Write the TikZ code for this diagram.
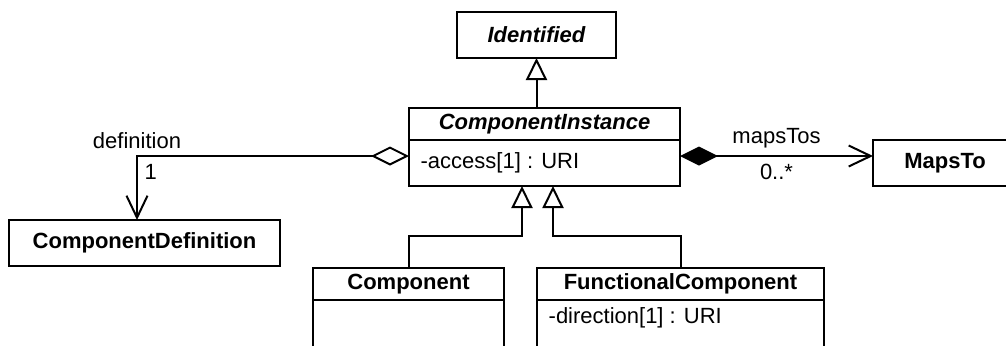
\documentclass[tikz,border=0pt]{standalone}
\usepackage{fontspec}
\setmainfont{Liberation Sans}
\usetikzlibrary{arrows.meta}

\begin{document}
\begin{tikzpicture}[x=0.5pt,y=-0.5pt,line width=1pt,
  every node/.style={font=\fontsize{11}{13}\selectfont},
  cls/.style={draw,inner sep=0pt,outer sep=0pt,minimum width=#1},
  gen/.style={-{Triangle[open,length=11pt,width=10.5pt]}},
  agg/.style={{Diamond[open,length=19pt,width=9.5pt]}-{Straight Barb[length=11pt,width=10.5pt]}},
  cmp/.style={{Diamond[length=19pt,width=9.5pt]}-{Straight Barb[length=11pt,width=10.5pt]}}]
   \useasboundingbox (0,0) rectangle (1006,345);
   \clip (0,0) rectangle (1006,345);
   \node[cls=79.5pt,minimum height=23pt] (ident) at (536.5,35) {\bfseries\itshape Identified};
   \node[cls=135.5pt,minimum height=16pt] (ci) at (544.5,124) {\bfseries\itshape ComponentInstance};
   \node[cls=135.5pt,minimum height=23pt,anchor=north] (ciatt) at (ci.south) {};
   \node[anchor=west] (access) at ([xshift=2pt]ciatt.west) {-access[1] : URI};
   \node[cls=135.5pt,minimum height=23pt] (cdef) at (144.5,243) {\bfseries ComponentDefinition};
   \node[cls=72pt,minimum height=23pt,anchor=west] (maps) at (873,163) {\bfseries MapsTo};
   \node[cls=95.5pt,minimum height=16pt] (comp) at (408.5,284) {\bfseries Component};
   \node[cls=95.5pt,minimum height=40pt,anchor=north] (compatt) at (comp.south) {};
   \node[cls=143.5pt,minimum height=16pt] (fcomp) at (680.5,284) {\bfseries FunctionalComponent};
   \node[cls=143.5pt,minimum height=40pt,anchor=north] (fcatt) at (fcomp.south) {};
   \node[anchor=west] (direction) at ([xshift=2pt,yshift=-9pt]fcatt.north west) {-direction[1] : URI};
   \draw[gen] (ident.south |- ci.north) -- (ident.south);
   \draw[gen] (comp.north) -- ++(0,-32) -| ([xshift=-11.25pt]ciatt.south);
   \draw[gen] (fcomp.north) -- ++(0,-32) -| ([xshift=4.25pt]ciatt.south);
   \draw[agg] ([yshift=3.5pt]ciatt.west) -| ([xshift=-3.75pt]cdef.north)
      node[pos=0.5,above] (deflabel) {definition}
      node[pos=0.625,right] (defmult) {1};
   \draw[cmp] ([yshift=3.5pt]ciatt.east) -- ([yshift=3.5pt]maps.west)
      node[pos=0.5,above] (maplabel) {mapsTos}
      node[pos=0.5,below] (mapmult) {0..*};
\end{tikzpicture}
\end{document}
